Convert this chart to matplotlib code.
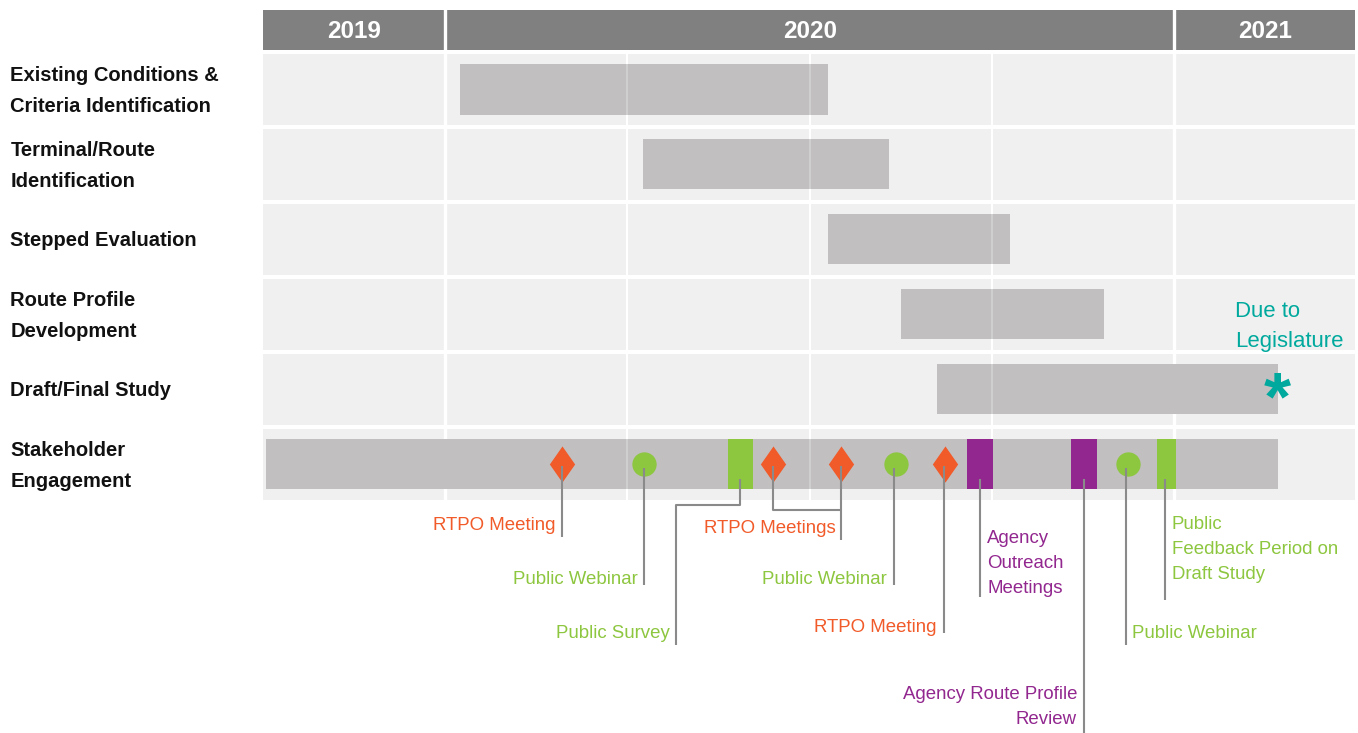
import matplotlib
matplotlib.use('Agg')
import matplotlib.pyplot as plt
from matplotlib.patches import Rectangle

# Months counted from 1 Oct 2019
years = ['2019', '2020', '2021']
year_start = [0, 3, 15]
year_end = [3, 15, 18]

tasks = ['Existing Conditions &\nCriteria Identification', 'Terminal/Route\nIdentification',
         'Stepped Evaluation', 'Route Profile\nDevelopment', 'Draft/Final Study',
         'Stakeholder\nEngagement']
task_start = [3.25, 6.25, 9.3, 10.5, 11.1, 0.05]
task_end = [9.3, 10.3, 12.3, 13.85, 16.7, 16.7]

rtpo_x = [4.92, 8.40, 9.51, 11.23]
webinar_x = [6.27, 10.42, 14.24]
survey_start, survey_end = 7.65, 8.07
feedback_start, feedback_end = 14.72, 15.03
agency_start = [11.59, 13.30]
agency_end = [12.02, 13.73]

due_x = 16.7

C_ORANGE = '#f15a29'
C_GREEN = '#8dc63f'
C_PURPLE = '#92278f'
C_TEAL = '#00a99d'
C_BAR = '#c1bfc0'
C_ROW = '#f0f0f0'
C_HEAD = '#808080'
C_LINE = '#8a8a8a'

FONT = ['Liberation Sans', 'DejaVu Sans']

fig = plt.figure(figsize=(13.58, 7.33), dpi=100)
ax = fig.add_axes([0, 0, 1, 1])
ax.set_xlim(-4.329, 18.025)
ax.set_ylim(8.59, -1.195)
ax.axis('off')

# header
for yr, s, e in zip(years, year_start, year_end):
    ax.add_patch(Rectangle((s, -1.061), min(e, 17.98) - s, 0.534, color=C_HEAD, lw=0))
    ax.text((s + min(e, 17.98)) / 2, -0.775, yr, color='white', fontsize=17.5, fontweight='bold',
            family=FONT, ha='center', va='center')

# row backgrounds
for i, t in enumerate(tasks):
    ax.add_patch(Rectangle((0, i - 0.474), 17.98, 0.948, color=C_ROW, lw=0, zorder=1))
    ax.text(-4.16, i + 0.02, t, fontsize=14.5, fontweight='bold', family=FONT, ha='left',
            va='center', color='#111111', linespacing=1.8)

# white separators
ax.vlines([3, 15], -1.2, 5.5, color='white', lw=2.4, zorder=2)
ax.vlines([6, 9, 12], -0.5, 5.5, color='white', lw=1.5, zorder=2)

# task bars
for i, (s, e) in enumerate(zip(task_start, task_end)):
    ax.barh(i, e - s, left=s, height=0.668, color=C_BAR, zorder=3)
ax.vlines([6, 9, 12], -0.5, 5.5, color='white', lw=1.5, alpha=0.25, zorder=3.5)

row = 5
# milestones in stakeholder row
ax.barh(row, survey_end - survey_start, left=survey_start, height=0.668, color=C_GREEN, zorder=4)
ax.barh(row, feedback_end - feedback_start, left=feedback_start, height=0.668, color=C_GREEN, zorder=4)
for s, e in zip(agency_start, agency_end):
    ax.barh(row, e - s, left=s, height=0.668, color=C_PURPLE, zorder=4)
diamond = [(0, 1), (0.7, 0), (0, -1), (-0.7, 0)]
ax.plot(rtpo_x, [row] * len(rtpo_x), ls='none', marker=diamond, ms=26, color=C_ORANGE, mew=0, zorder=5)
ax.plot(webinar_x, [row] * len(webinar_x), ls='none', marker='o', ms=17.5, color=C_GREEN, mew=0, zorder=5)

# leader lines
lk = dict(color=C_LINE, lw=1.5, zorder=6, solid_capstyle='butt')
ax.plot([rtpo_x[0]] * 2, [5.03, 5.975], **lk)
ax.plot([webinar_x[0]] * 2, [5.05, 6.615], **lk)
sx = (survey_start + survey_end) / 2
ax.plot([sx, sx, 6.80, 6.80], [5.2, 5.547, 5.547, 7.416], **lk)
ax.plot([rtpo_x[1], rtpo_x[1], rtpo_x[2], rtpo_x[2]], [5.03, 5.614, 5.614, 5.03], **lk)
ax.plot([rtpo_x[2]] * 2, [5.614, 6.015], **lk)
ax.plot([webinar_x[1] - 0.03] * 2, [5.05, 6.615], **lk)
ax.plot([rtpo_x[3] - 0.02] * 2, [5.03, 7.255], **lk)
a1 = (agency_start[0] + agency_end[0]) / 2
a2 = (agency_start[1] + agency_end[1]) / 2
ax.plot([a1] * 2, [5.2, 6.776], **lk)
ax.plot([a2] * 2, [5.2, 8.59], **lk)
ax.plot([webinar_x[2] - 0.03] * 2, [5.05, 7.416], **lk)
fx = (feedback_start + feedback_end) / 2 - 0.02
ax.plot([fx] * 2, [5.2, 6.816], **lk)

tk = dict(fontsize=13.4, family=FONT, va='center', linespacing=1.62)
ax.text(4.823, 5.815, 'RTPO Meeting', color=C_ORANGE, ha='right', **tk)
ax.text(6.173, 6.535, 'Public Webinar', color=C_GREEN, ha='right', **tk)
ax.text(6.700, 7.256, 'Public Survey', color=C_GREEN, ha='right', **tk)
ax.text(9.432, 5.855, 'RTPO Meetings', color=C_ORANGE, ha='right', **tk)
ax.text(10.27, 6.535, 'Public Webinar', color=C_GREEN, ha='right', **tk)
ax.text(11.09, 7.176, 'RTPO Meeting', color=C_ORANGE, ha='right', **tk)
ax.text(11.92, 6.322, 'Agency\nOutreach\nMeetings', color=C_PURPLE, ha='left', **tk)
ax.text(13.40, 8.238, 'Agency Route Profile\nReview', color=C_PURPLE, ha='right',
        multialignment='right', **tk)
ax.text(14.30, 7.256, 'Public Webinar', color=C_GREEN, ha='left', **tk)
ax.text(14.96, 6.142, 'Public\nFeedback Period on\nDraft Study', color=C_GREEN, ha='left', **tk)

# due date
ax.text(16.0, 3.165, 'Due to\nLegislature', color=C_TEAL, ha='left', va='center',
        fontsize=15.9, family=FONT, linespacing=1.52)
ax.text(due_x, 4.17, '*', color=C_TEAL, ha='center', va='center', fontsize=50,
        fontweight='bold', family=FONT, zorder=7)

fig.savefig('out.png', dpi=100)
